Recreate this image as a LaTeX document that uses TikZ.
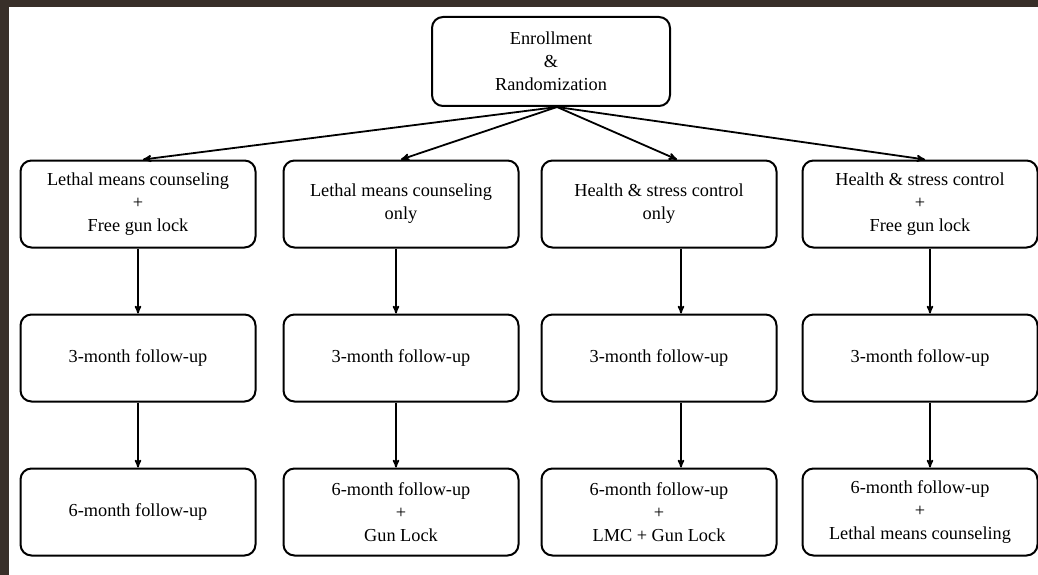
\documentclass[tikz,border=0pt]{standalone}
\usepackage{fontspec}
\setmainfont{Liberation Serif}
\usetikzlibrary{arrows,positioning}
\definecolor{framebrown}{RGB}{56,47,41}

\begin{document}
\begin{tikzpicture}[x=1pt,y=1pt,>=stealth',auto,node distance=65pt and 22pt,
    stage/.style={draw,rounded corners=11pt,line width=2pt,minimum width=235pt,minimum height=87pt,align=center,font=\fontsize{18.3}{22.8}\selectfont}]

                \useasboundingbox (0,0) rectangle (1038,-575);

                \fill[framebrown] (0,0) rectangle (1050,-590);

                \fill[white] (9,-7) rectangle (1050,-590);

                

                \node[stage,minimum width=238pt,minimum height=89pt] (enr) at (551,-61.5) {Enrollment\\\&\\Randomization};

                

                \node[stage] (lmcg) at (138,-204) {Lethal means counseling\\+\\Free gun lock};

                \node[stage] (lmc) [right=26pt of lmcg] {Lethal means counseling\\only};

                \node[stage] (hsc) [right=21pt of lmc] {Health \& stress control\\only};

                \node[stage] (hscg) [right=24pt of hsc] {Health \& stress control\\+\\Free gun lock};

                

                \node[stage] (lmcg3) [below=of lmcg] {3-month follow-up};

                \node[stage] (lmc3) [below=of lmc] {3-month follow-up};

                \node[stage] (hsc3) [below=of hsc] {3-month follow-up};

                \node[stage] (hscg3) [below=of hscg] {3-month follow-up};

                

                \node[stage] (lmcg6) [below=of lmcg3] {6-month follow-up};

                \node[stage] (lmc6) [below=of lmc3] {6-month follow-up\\+\\Gun Lock};

                \node[stage] (hsc6) [below=of hsc3] {6-month follow-up\\+\\LMC + Gun Lock};

                \node[stage] (hscg6) [below=of hscg3] {6-month follow-up\\+\\Lethal means counseling};

                

                \path[->,line width=1.8pt] ([xshift=6pt]enr.south) edge ([xshift=5pt]lmcg.north)

                               edge (lmc.north)

                               edge ([xshift=18pt]hsc.north)

                               edge ([xshift=5pt]hscg.north);

                

                \path[->,line width=1.6pt] (lmcg) edge (lmcg3)

                          (lmcg3) edge (lmcg6)

                          ([xshift=-5pt]lmc.south) edge ([xshift=-5pt]lmc3.north)

                          ([xshift=-5pt]lmc3.south) edge ([xshift=-5pt]lmc6.north)

                          ([xshift=22pt]hsc.south) edge ([xshift=22pt]hsc3.north)

                          ([xshift=22pt]hsc3.south) edge ([xshift=22pt]hsc6.north)

                          ([xshift=10pt]hscg.south) edge ([xshift=10pt]hscg3.north)

                          ([xshift=10pt]hscg3.south) edge ([xshift=10pt]hscg6.north);

            \end{tikzpicture}
\end{document}
